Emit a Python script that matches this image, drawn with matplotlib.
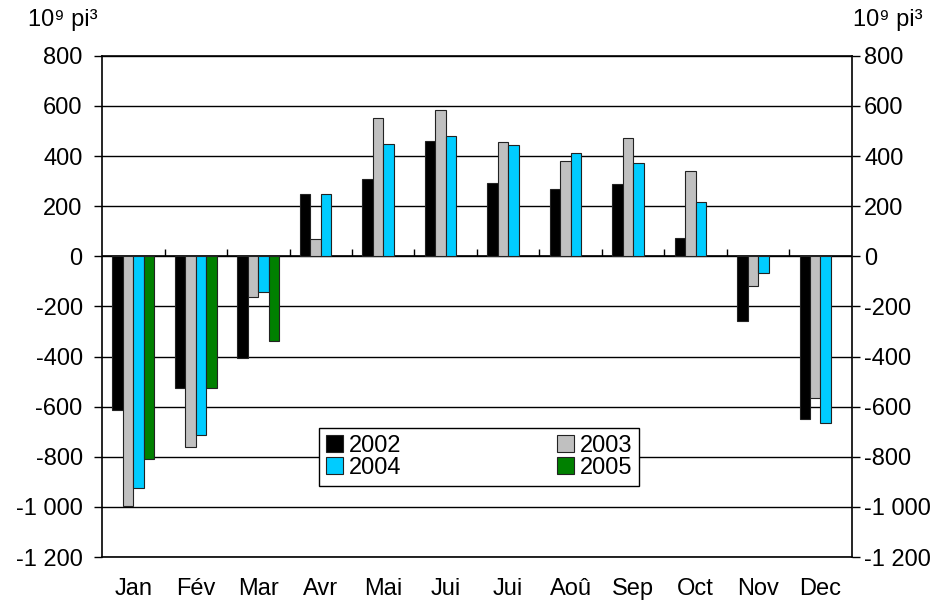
import matplotlib
matplotlib.use('Agg')
import numpy as np
import matplotlib.pyplot as plt

plt.rcParams['font.family'] = ['Liberation Sans', 'DejaVu Sans']

months = ['Jan', 'Fév', 'Mar', 'Avr', 'Mai', 'Jui', 'Jui', 'Aoû', 'Sep', 'Oct', 'Nov', 'Dec']
years = ['2002', '2003', '2004', '2005']
v2002 = [-612, -526, -405, 250, 309, 459, 292, 267, 287, 71, -259, -648]
v2003 = [-995, -762, -161, 68, 553, 584, 454, 382, 473, 342, -117, -564]
v2004 = [-925, -715, -143, 250, 448, 478, 443, 414, 373, 215, -66, -666]
v2005 = [-807, -526, -338, np.nan, np.nan, np.nan, np.nan, np.nan, np.nan, np.nan, np.nan, np.nan]
colors = ['#000000', '#c0c0c0', '#00ccff', '#008000']
yticks = [800, 600, 400, 200, 0, -200, -400, -600, -800, -1000, -1200]
unit_label = '10⁹ pi³'
FS = 17


def fmt(v):
    s = f"{abs(v):,}".replace(',', ' ')
    return ('-' if v < 0 else '') + s


fig = plt.figure(figsize=(9.37, 6.01), dpi=100)
ax = fig.add_axes([0.109, 0.0732, 0.8, 0.834])

x = np.arange(len(months))
w = 0.168
series = [v2002, v2003, v2004, v2005]
bars = []
for i, vals in enumerate(series):
    b = ax.bar(x + (i - 1.5) * w, vals, width=w, color=colors[i],
               edgecolor='#222222', linewidth=0.8, zorder=3, label=years[i])
    bars.append(b)

ax.set_xlim(-0.5, len(months) - 0.5)
ax.set_ylim(-1200, 800)
ax.set_yticks(yticks)
ax.set_yticklabels([fmt(v) for v in yticks], fontsize=FS)
ax.yaxis.grid(True, color='black', linewidth=1, zorder=0)
ax.set_axisbelow(True)
ax.axhline(0, color='black', linewidth=1.2, zorder=2)
# small tick marks on the zero line between months
ax.vlines(np.arange(1, len(months)) - 0.5, 0, 30, color='black', linewidth=1, zorder=2)

ax.set_xticks(x)
ax.set_xticklabels(months, fontsize=FS)
ax.tick_params(axis='x', length=0, pad=15)
ax.tick_params(axis='y', length=6, width=1, direction='out', pad=8)
for s in ax.spines.values():
    s.set_linewidth(1.2)
    s.set_color('black')

ax2 = ax.twinx()
ax2.set_ylim(-1200, 800)
ax2.set_yticks(yticks)
ax2.set_yticklabels([fmt(v) for v in yticks], fontsize=FS)
ax2.tick_params(axis='y', length=6, width=1, direction='out', pad=3)
for s in ax2.spines.values():
    s.set_visible(False)

fig.text(0.030, 0.967, unit_label, fontsize=FS, ha='left', va='center')
fig.text(0.910, 0.967, unit_label, fontsize=FS, ha='left', va='center')

handles = [bars[0], bars[2], bars[1], bars[3]]
labels = [years[0], years[2], years[1], years[3]]
leg = ax.legend(handles, labels, ncol=2, loc='center', bbox_to_anchor=(0.503, 0.2),
                fontsize=FS, frameon=True, fancybox=False, framealpha=1,
                edgecolor='black', handlelength=0.7, handleheight=0.7,
                handletextpad=0.25, columnspacing=6.6, labelspacing=0.0,
                borderpad=0.3, borderaxespad=0)
leg.get_frame().set_linewidth(1)
leg.set_zorder(5)

fig.savefig('out.png', dpi=100)
